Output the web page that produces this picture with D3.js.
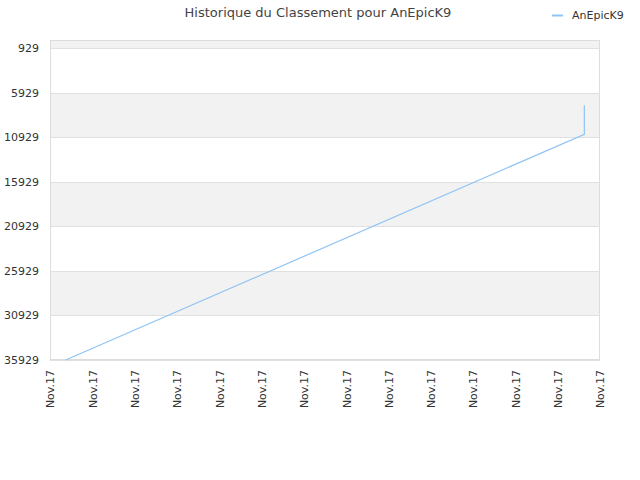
<!DOCTYPE html>
<html><head><meta charset="utf-8">
<script src="https://cdn.jsdelivr.net/npm/d3@7"></script>
<style>body{margin:0;background:#fff;font-family:"DejaVu Sans",sans-serif;}</style>
</head><body><svg id="c" width="640" height="480"></svg>
<script>
const title = "Historique du Classement pour AnEpicK9";
const seriesName = "AnEpicK9";
const xTickLabels = ["Nov.17","Nov.17","Nov.17","Nov.17","Nov.17","Nov.17","Nov.17","Nov.17","Nov.17","Nov.17","Nov.17","Nov.17","Nov.17","Nov.17"];
const yTicks = [929, 5929, 10929, 15929, 20929, 25929, 30929, 35929];
const pointT = [0.37, 12.63, 12.63];
const pointRank = [35929, 10588, 7333];

const svg = d3.select("#c");
const m = {l:50, t:40, r:600, b:360};
const x = d3.scaleLinear().domain([0, xTickLabels.length-1]).range([m.l, m.r]);
const y = d3.scaleLinear().domain([0, 35929]).range([m.t, m.b]);

// bands
const bandEdges = [0].concat(yTicks);
for (let i=0;i<bandEdges.length-1;i++){
  svg.append("rect").attr("x",m.l).attr("width",m.r-m.l)
    .attr("y",y(bandEdges[i])).attr("height",y(bandEdges[i+1])-y(bandEdges[i]))
    .attr("fill", i%2===0 ? "#f2f2f2" : "#ffffff");
}
// grid lines
svg.selectAll("line.g").data(yTicks).enter().append("line")
  .attr("x1",m.l).attr("x2",m.r).attr("y1",d=>Math.round(y(d))+0.5).attr("y2",d=>Math.round(y(d))+0.5)
  .attr("stroke","#e0e0e0");
// border
svg.append("rect").attr("x",m.l+0.5).attr("y",m.t+0.5).attr("width",m.r-m.l-1).attr("height",m.b-m.t-1)
  .attr("fill","none").attr("stroke","#dddddd");

// y axis labels
const yAxis = d3.axisLeft(y).tickValues(yTicks).tickSize(0).tickPadding(11).tickFormat(d3.format("d"));
const ya = svg.append("g").attr("transform",`translate(${m.l},0)`).call(yAxis);
ya.select(".domain").remove();
ya.selectAll("text").attr("font-size","11px").attr("fill","#333").attr("font-family","DejaVu Sans, sans-serif");

// x axis labels
const xAxis = d3.axisBottom(x).tickValues(d3.range(xTickLabels.length)).tickSize(0).tickFormat(i=>xTickLabels[i]);
const xa = svg.append("g").attr("transform",`translate(0,${m.b})`).call(xAxis);
xa.select(".domain").remove();
xa.selectAll("text").attr("font-size","11px").attr("fill","#333").attr("font-family","DejaVu Sans, sans-serif")
  .attr("text-anchor","end").attr("transform","rotate(-90)").attr("x",-10).attr("y",0).attr("dy","0.35em");

// line
const pts = pointT.map((t,i)=>[t, pointRank[i]]);
svg.append("path").datum(pts)
  .attr("d", d3.line().x(d=>x(d[0])).y(d=>y(d[1])))
  .attr("fill","none").attr("stroke","#90c4f4").attr("stroke-width",1.2);

// title
svg.append("text").attr("x",318).attr("y",17).attr("text-anchor","middle")
  .attr("font-size","13px").attr("fill","#444").text(title);
// legend
svg.append("line").attr("x1",552).attr("x2",563).attr("y1",15.5).attr("y2",15.5)
  .attr("stroke","#90c4f4").attr("stroke-width",2);
svg.append("text").attr("x",572).attr("y",19).attr("font-size","11px").attr("fill","#333").text(seriesName);
</script></body></html>
